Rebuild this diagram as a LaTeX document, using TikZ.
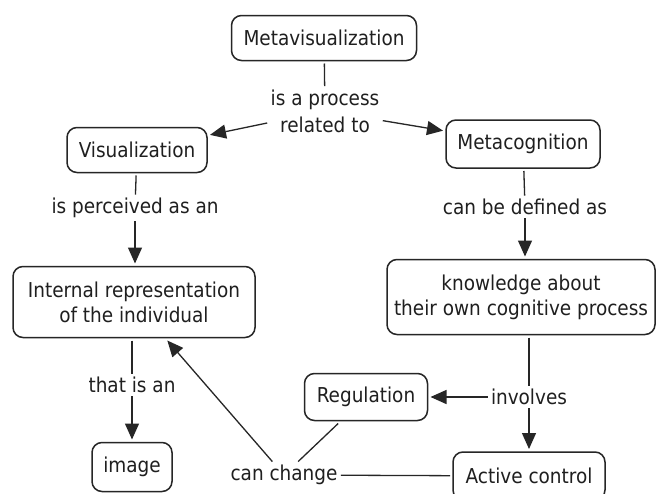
\documentclass[tikz,border=0pt]{standalone}
\usepackage{fontspec}
\setmainfont{DejaVu Sans Condensed}
\usetikzlibrary{arrows.meta}
\begin{document}
\begin{tikzpicture}[x=1pt,y=-1pt,
  concept/.style={draw=black!85, line width=1.5pt, rounded corners=10pt, fill=white,
    align=center, text=black!88, font=\fontsize{20.5}{25}\selectfont, inner sep=0pt, outer sep=3pt},
  linklabel/.style={align=center, text=black!88, font=\fontsize{20.5}{27}\selectfont, inner sep=1.5pt, outer sep=2pt},
  conn/.style={draw=black!85, line width=1.3pt},
  arr/.style={conn, -{Triangle[length=16pt,width=14pt]}}]
\fill[white] (0,0) rectangle (659,493);
\clip (0,0) rectangle (659,493);
% concepts
\node[concept, minimum width=185pt, minimum height=45pt] (meta) at (324,38) {Metavisualization};
\node[concept, minimum width=140pt, minimum height=45pt] (vis) at (137,150) {Visualization};
\node[concept, minimum width=154pt, minimum height=48pt] (metacog) at (523,144) {Metacognition};
\node[concept, minimum width=242pt, minimum height=71pt] (internal) at (134,302) {Internal representation\\of the individual};
\node[concept, minimum width=268pt, minimum height=75pt] (know) at (521,297) {knowledge about\\their own cognitive process};
\node[concept, minimum width=80pt, minimum height=49pt] (image) at (132,467) {image};
\node[concept, minimum width=123pt, minimum height=47pt] (reg) at (366,397) {Regulation};
\node[concept, minimum width=152pt, minimum height=48pt] (active) at (529,476) {Active control};
% linking phrases
\node[linklabel] (l1) at (325,111) {is a process\\related to};
\node[linklabel] (l2) at (135,208) {is perceived as an};
\node[linklabel] (l3) at (525,207) {can be defined as};
\node[linklabel] (l4) at (132,385) {that is an};
\node[linklabel] (l5) at (529,397) {involves};
\node[linklabel] (l6) at (284,475) {can change};
% connectors
\draw[conn] (meta) -- (l1);
\draw[arr] (l1) -- (vis);
\draw[arr] (l1) -- (metacog);
\draw[conn] (vis) -- (l2);
\draw[arr] (l2) -- (l2 |- internal.north);
\draw[conn] (metacog) -- (l3);
\draw[arr] (l3) -- (l3 |- know.north);
\draw[conn] (internal.south -| l4) -- (l4);
\draw[arr] (l4) -- (image);
\draw[conn] (l5 |- know.south) -- (l5);
\draw[arr] (l5) -- (reg);
\draw[arr] (l5) -- (active);
\draw[conn] (reg) -- (l6);
\draw[conn] (active) -- (l6);
\draw[arr] (l6) -- (internal);
\end{tikzpicture}
\end{document}
